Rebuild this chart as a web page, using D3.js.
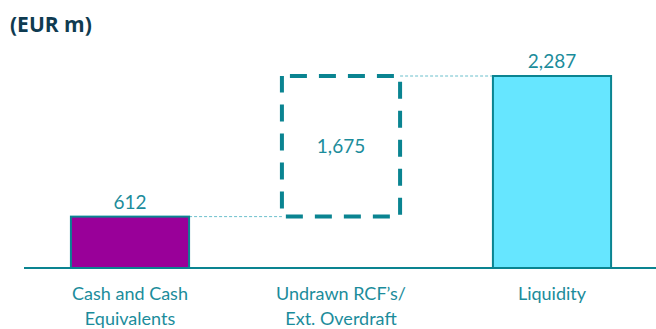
<!DOCTYPE html>
<html><head><meta charset="utf-8">
<script src="https://cdn.jsdelivr.net/npm/d3@7"></script>
<style>body{margin:0;background:#fff}svg{display:block}</style>
</head><body>
<script>
const categories = ["Cash and Cash\nEquivalents", "Undrawn RCF’s/\nExt. Overdraft", "Liquidity"];
const values = [612, 1675, 2287];
const valueLabels = ["612", "1,675", "2,287"];
const kinds = ["bar", "gap", "total"];
const unitTitle = "(EUR m)";

const W = 656, H = 329;
const svg = d3.select("body").append("svg").attr("width", W).attr("height", H);
const teal = "#0a8491", txt = "#1b8c9b";
const font = "Lato, 'Open Sans', sans-serif";

const x = d3.scaleBand().domain(categories).range([24.5, 657.5]).paddingInner(0.44).paddingOuter(0.22);
const y = d3.scaleLinear().domain([0, values[2]]).range([268, 76]);

svg.append("text").attr("x", 10).attr("y", 32).text(unitTitle)
  .attr("font-family", "'Open Sans', sans-serif").attr("font-weight", 700)
  .attr("font-size", 21).attr("fill", "#0f3b51");

const rows = categories.map((c, i) => {
  let lo, hi;
  if (kinds[i] === "gap") { lo = values[0]; hi = values[0] + values[i]; }
  else { lo = 0; hi = values[i]; }
  return {c, v: values[i], lo, hi, kind: kinds[i], label: valueLabels[i]};
});

// connectors
const conn = svg.append("g");
conn.append("line").attr("x1", x(categories[0]) + x.bandwidth()).attr("x2", x(categories[1]))
  .attr("y1", y(rows[0].hi)).attr("y2", y(rows[0].hi));
conn.append("line").attr("x1", x(categories[1]) + x.bandwidth()).attr("x2", x(categories[2]))
  .attr("y1", y(rows[1].hi)).attr("y2", y(rows[1].hi));
conn.selectAll("line").attr("stroke", "#6bbfcc").attr("stroke-width", 1).attr("stroke-dasharray", "3,2");

// axis line
svg.append("line").attr("x1", 24).attr("x2", W).attr("y1", y(0)).attr("y2", y(0))
  .attr("stroke", teal).attr("stroke-width", 2);

const fills = {bar: "#990099", total: "#66e6ff"};
rows.forEach(r => {
  const cx = x(r.c) + x.bandwidth() / 2;
  if (r.kind === "gap") {
    svg.append("rect").attr("x", x(r.c)).attr("y", y(r.hi)).attr("width", x.bandwidth())
      .attr("height", y(r.lo) - y(r.hi)).attr("fill", "none").attr("stroke", teal)
      .attr("stroke-width", 4).attr("stroke-dasharray", "17,12").attr("stroke-dashoffset", -8);
    svg.append("text").attr("class", "val").attr("x", cx).attr("y", (y(r.hi) + y(r.lo)) / 2 + 7)
      .attr("text-anchor", "middle").text(r.label);
  } else {
    svg.append("rect").attr("x", x(r.c)).attr("y", y(r.hi)).attr("width", x.bandwidth())
      .attr("height", y(r.lo) - y(r.hi)).attr("fill", fills[r.kind]).attr("stroke", teal).attr("stroke-width", 2);
    svg.append("text").attr("class", "val").attr("x", cx).attr("y", y(r.hi) - 8)
      .attr("text-anchor", "middle").text(r.label);
  }
});
svg.selectAll("text.val").attr("font-family", font).attr("font-size", 19).attr("fill", txt);

// category labels
rows.forEach(r => {
  const cx = x(r.c) + x.bandwidth() / 2;
  const t = svg.append("text").attr("x", cx).attr("y", 300).attr("text-anchor", "middle").attr("class", "cat");
  r.c.split("\n").forEach((line, j) => {
    t.append("tspan").attr("x", cx).attr("dy", j === 0 ? 0 : 25).text(line);
  });
});
svg.selectAll("text.cat").attr("font-family", font).attr("font-size", 18).attr("fill", txt);
</script>
</body></html>
